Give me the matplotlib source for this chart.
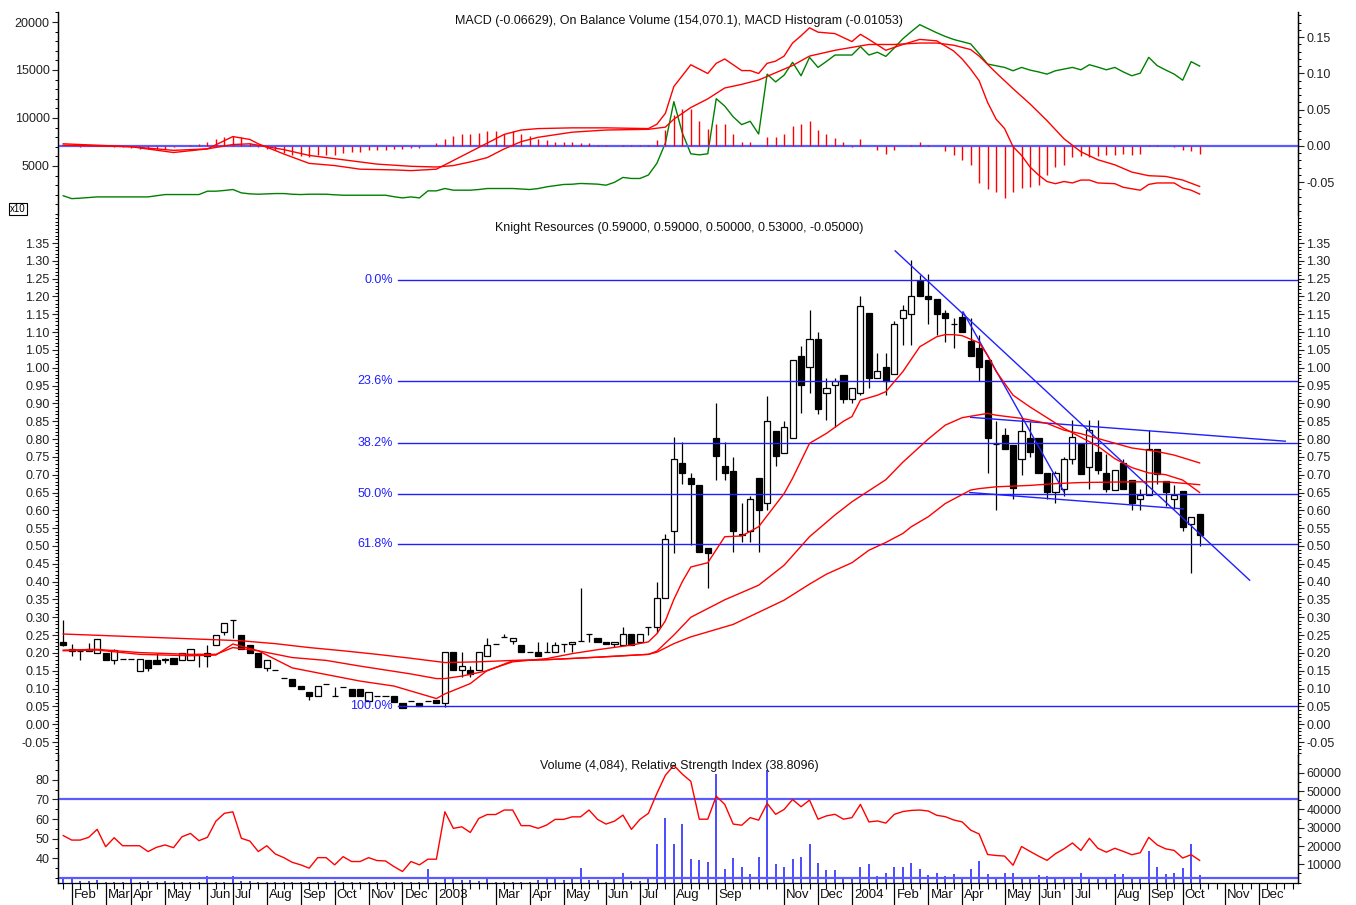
import matplotlib
matplotlib.use('Agg')
import matplotlib.pyplot as plt
import numpy as np
from matplotlib.ticker import MultipleLocator, FixedLocator, FormatStrFormatter, NullFormatter
import matplotlib.transforms as mtrans

plt.rcParams['font.family'] = ['Liberation Sans', 'DejaVu Sans']

# ---------------- data (weekly bars, index 0 .. 134) ----------------
c_open = [0.232,0.210,0.205,0.205,0.200,0.200,0.180,0.182,0.182,0.149,
          0.179,0.179,0.180,0.187,0.179,0.179,0.196,0.192,0.222,0.259,
          0.291,0.250,0.222,0.201,0.158,0.151,0.130,0.127,0.108,0.090,
          0.080,0.113,0.080,0.104,0.100,0.100,0.064,0.080,0.080,0.080,
          0.059,0.064,0.059,0.064,0.069,0.059,0.203,0.151,0.151,0.151,
          0.191,0.226,0.245,0.234,0.222,0.203,0.203,0.203,0.203,0.225,
          0.225,0.234,0.252,0.243,0.231,0.225,0.222,0.252,0.231,0.273,
          0.272,0.355,0.542,0.732,0.692,0.672,0.493,0.804,0.724,0.711,
          0.530,0.542,0.692,0.621,0.823,0.761,0.802,1.033,1.003,1.082,
          0.930,0.951,0.981,0.911,0.930,1.154,0.970,1.003,0.982,1.141,
          1.152,1.244,1.201,1.192,1.154,1.124,1.143,1.075,1.055,1.021,
          0.786,0.811,0.783,0.743,0.802,0.803,0.704,0.652,0.660,0.743,
          0.785,0.722,0.764,0.705,0.658,0.733,0.685,0.633,0.643,0.771,
          0.683,0.633,0.654,0.561,0.590]
c_high = [0.292,0.225,0.205,0.228,0.240,0.200,0.210,0.182,0.182,0.182,
          0.179,0.201,0.185,0.187,0.201,0.210,0.196,0.222,0.250,0.283,
          0.291,0.250,0.222,0.201,0.179,0.151,0.130,0.127,0.108,0.090,
          0.108,0.113,0.104,0.104,0.100,0.100,0.090,0.080,0.080,0.080,
          0.059,0.064,0.059,0.064,0.069,0.203,0.203,0.203,0.163,0.203,
          0.243,0.226,0.252,0.243,0.222,0.203,0.231,0.231,0.231,0.225,
          0.231,0.381,0.252,0.243,0.231,0.231,0.273,0.252,0.252,0.273,
          0.399,0.533,0.805,0.793,0.704,0.672,0.493,0.902,0.791,0.750,
          0.621,0.640,0.692,0.921,0.823,0.851,1.021,1.062,1.162,1.101,
          0.970,0.970,0.981,0.942,1.201,1.154,1.042,1.042,1.132,1.176,
          1.302,1.260,1.263,1.192,1.162,1.141,1.157,1.141,1.092,1.021,
          0.850,0.830,0.783,0.858,0.848,0.803,0.704,0.711,0.750,0.853,
          0.785,0.853,0.853,0.757,0.713,0.743,0.685,0.661,0.825,0.771,
          0.683,0.671,0.654,0.580,0.590]
c_low = [0.220,0.190,0.180,0.205,0.200,0.180,0.170,0.182,0.182,0.149,
         0.149,0.170,0.172,0.170,0.179,0.179,0.160,0.160,0.222,0.250,
         0.242,0.210,0.201,0.160,0.149,0.151,0.130,0.108,0.100,0.069,
         0.080,0.113,0.080,0.104,0.080,0.080,0.064,0.080,0.080,0.061,
         0.045,0.064,0.050,0.064,0.059,0.047,0.151,0.133,0.133,0.151,
         0.191,0.226,0.245,0.226,0.203,0.203,0.191,0.203,0.203,0.203,
         0.203,0.234,0.231,0.231,0.225,0.218,0.222,0.222,0.231,0.250,
         0.255,0.355,0.481,0.673,0.502,0.484,0.381,0.685,0.685,0.484,
         0.512,0.512,0.484,0.600,0.724,0.761,0.802,0.872,0.930,0.870,
         0.853,0.834,0.902,0.902,0.923,0.942,0.970,0.923,0.982,1.064,
         1.064,1.201,1.124,1.092,1.073,1.055,1.101,1.033,0.963,0.704,
         0.602,0.771,0.633,0.699,0.750,0.704,0.633,0.621,0.640,0.731,
         0.703,0.661,0.703,0.652,0.658,0.661,0.602,0.600,0.643,0.675,
         0.612,0.605,0.542,0.423,0.500]
c_close = [0.222,0.205,0.205,0.210,0.240,0.180,0.208,0.182,0.182,0.182,
           0.158,0.170,0.182,0.170,0.201,0.210,0.196,0.201,0.250,0.283,
           0.291,0.210,0.201,0.160,0.179,0.151,0.130,0.108,0.100,0.080,
           0.108,0.113,0.080,0.104,0.080,0.080,0.090,0.080,0.080,0.061,
           0.045,0.064,0.050,0.064,0.059,0.203,0.151,0.163,0.142,0.203,
           0.222,0.226,0.245,0.243,0.203,0.203,0.191,0.203,0.222,0.225,
           0.231,0.234,0.252,0.231,0.225,0.231,0.252,0.222,0.252,0.273,
           0.353,0.521,0.743,0.704,0.673,0.484,0.481,0.752,0.704,0.542,
           0.535,0.631,0.600,0.851,0.752,0.833,1.021,0.951,1.082,0.883,
           0.942,0.962,0.911,0.942,1.173,0.970,0.992,0.963,1.123,1.162,
           1.201,1.201,1.192,1.152,1.141,1.124,1.101,1.033,1.003,0.804,
           0.786,0.771,0.662,0.823,0.764,0.704,0.652,0.704,0.745,0.805,
           0.703,0.825,0.713,0.661,0.713,0.661,0.621,0.643,0.771,0.703,
           0.652,0.643,0.552,0.580,0.530]

# moving averages (read at knots)
ma_fast_k = [0,4,9,15,18,20,23,27,30,35,39,44,45,48,50,53,57,60,63,67,
             69,70,71,72,73,74,76,78,80,82,85,86,88,90,92,93,94,96,97,99,
             101,103,104,105,106,108,109,110,112,114,116,118,120,122,124,126,128,130,132,134]
ma_fast = [0.206,0.208,0.196,0.192,0.194,0.225,0.206,0.158,0.144,0.121,
           0.107,0.072,0.085,0.114,0.151,0.175,0.184,0.198,0.209,0.222,
           0.231,0.254,0.29,0.35,0.40,0.441,0.453,0.526,0.528,0.554,
           0.647,0.690,0.788,0.816,0.850,0.863,0.909,0.923,0.933,0.989,
           1.059,1.087,1.093,1.093,1.09,1.07,1.035,0.99,0.923,0.89,
           0.86,0.83,0.805,0.78,0.745,0.72,0.705,0.70,0.685,0.650]
ma_mid_k = [0,4,9,15,18,20,23,27,31,35,41,44,45,47,50,53,57,63,69,70,
            72,74,78,82,85,88,91,93,95,97,99,102,104,106,109,110,113,116,118,120,
            123,126,129,131,134]
ma_mid = [0.208,0.210,0.201,0.196,0.196,0.215,0.206,0.187,0.179,0.163,
          0.141,0.128,0.128,0.135,0.150,0.178,0.181,0.188,0.196,0.205,
          0.25,0.30,0.349,0.390,0.446,0.526,0.587,0.624,0.655,0.686,
          0.735,0.80,0.839,0.86,0.872,0.867,0.858,0.844,0.825,0.815,
          0.795,0.775,0.765,0.755,0.733]
ma_slow_k = [0,9,19,21,25,29,33,37,41,45,49,53,57,63,69,70,72,74,79,85,
             88,90,93,95,97,99,100,102,104,107,108,110,114,117,120,126,130,134]
ma_slow = [0.253,0.245,0.236,0.234,0.226,0.215,0.206,0.196,0.185,0.173,
           0.175,0.179,0.181,0.188,0.196,0.202,0.226,0.245,0.28,0.348,
           0.393,0.421,0.453,0.488,0.51,0.535,0.554,0.582,0.619,0.657,
           0.661,0.666,0.670,0.675,0.678,0.68,0.68,0.672]

# fibonacci retracement levels and trend lines
fib_levels = [1.245, 0.963, 0.789, 0.647, 0.506, 0.05]
fib_labels = ['0.0%', '23.6%', '38.2%', '50.0%', '61.8%', '100.0%']
fib_start = 39.5
trend_k = [[98.1, 139.9], [106.1, 118.0], [107.0, 144.1], [106.9, 132.1]]
trend_v = [[1.328, 0.404], [1.157, 0.652], [0.861, 0.794], [0.650, 0.604]]

# On Balance Volume (x10)
obv = [1900,1600,1650,1720,1780,1780,1780,1780,1780,1780,
       1780,1900,2025,2025,2025,2025,2025,2375,2375,2450,
       2550,2200,2100,2060,2100,2130,2130,2060,2025,2060,
       2060,2060,2000,1955,1955,1955,1955,1955,1955,1800,
       1675,1780,1675,2410,2410,2655,2480,2480,2480,2550,
       2655,2655,2655,2655,2600,2550,2650,2830,2950,3075,
       3100,3180,3150,3110,3000,3300,3810,3700,3700,4060,
       5280,7390,11700,8440,6270,6160,6270,12010,11240,10120,
       9310,9660,8330,14570,13760,14460,15800,14400,16320,15270,
       15900,16560,16560,16560,17440,16560,16850,16420,17300,18250,
       19000,19720,19300,18880,18500,18180,17950,17720,16700,15620,
       15450,15270,14920,15270,14990,14800,14570,14920,15100,15270,
       15020,15550,15300,15020,15270,14800,14400,14670,16320,15450,
       15000,14570,13940,15870,15407]

# MACD and signal (knots)
macd_k = [0,4,8,13,17,20,22,23,26,29,32,35,39,41,44,45,46,48,50,52,
          54,56,60,64,69,70,71,72,74,76,77,78,80,81,82,83,84,85,86,87,
          88,89,91,93,94,95,97,99,101,103,105,106,107,108,109,110,111,112,113,114,
          115,116,117,118,119,120,121,122,124,125,127,128,129,131,132,133,134]
macd = [0.003,0.001,-0.001,-0.009,-0.004,0.013,0.009,0.003,-0.011,-0.024,
        -0.027,-0.032,-0.033,-0.034,-0.032,-0.026,-0.020,-0.008,0.004,0.016,
        0.022,0.024,0.025,0.025,0.024,0.030,0.045,0.082,0.112,0.100,
        0.114,0.120,0.104,0.104,0.100,0.114,0.117,0.124,0.142,0.152,
        0.163,0.157,0.155,0.144,0.154,0.147,0.132,0.140,0.147,0.145,
        0.131,0.120,0.106,0.090,0.060,0.037,0.024,-0.001,-0.013,-0.029,
        -0.040,-0.049,-0.052,-0.049,-0.051,-0.047,-0.047,-0.051,-0.052,-0.057,
        -0.061,-0.053,-0.051,-0.051,-0.058,-0.061,-0.0663]
signal_k = [0,8,13,17,20,22,26,29,33,37,41,44,46,48,50,52,54,56,60,64,
            69,71,72,74,76,78,80,82,84,86,88,91,93,95,98,101,103,105,107,108,
            110,112,114,116,118,120,122,124,126,128,130,132,134]
signal = [0.001,-0.001,-0.006,-0.004,0.002,0.003,-0.005,-0.013,-0.019,-0.025,
          -0.028,-0.029,-0.027,-0.022,-0.016,-0.004,0.006,0.012,0.019,0.022,
          0.023,0.026,0.037,0.053,0.065,0.080,0.085,0.091,0.101,0.111,
          0.124,0.132,0.136,0.140,0.140,0.142,0.142,0.139,0.133,0.124,
          0.101,0.079,0.058,0.035,0.010,-0.008,-0.019,-0.026,-0.036,-0.041,
          -0.042,-0.047,-0.0558]
macd_hist = [0.0,0.0,-0.001,0.001,0.002,0.0,-0.001,-0.002,-0.003,-0.004,
             -0.004,-0.004,-0.004,-0.002,0.0,0.002,0.003,0.006,0.009,0.012,
             0.014,0.012,0.004,-0.002,-0.004,-0.006,-0.010,-0.012,-0.014,-0.015,
             -0.013,-0.013,-0.012,-0.009,-0.008,-0.008,-0.006,-0.005,-0.005,-0.004,
             -0.004,-0.003,-0.003,0.0,0.004,0.010,0.014,0.016,0.016,0.018,
             0.021,0.021,0.017,0.020,0.016,0.014,0.009,0.008,0.006,0.005,
             0.005,0.004,0.004,0.002,0.002,0.0,0.002,0.002,0.001,0.002,
             0.008,0.022,0.043,0.051,0.051,0.035,0.024,0.031,0.031,0.017,
             0.006,0.005,0.0,0.013,0.013,0.016,0.028,0.030,0.035,0.022,
             0.017,0.011,0.005,-0.002,0.010,0.0,-0.005,-0.011,-0.006,0.0,
             0.002,0.005,0.002,0.0,-0.007,-0.013,-0.019,-0.026,-0.051,-0.060,
             -0.064,-0.072,-0.063,-0.058,-0.057,-0.054,-0.040,-0.029,-0.026,-0.015,
             -0.014,-0.015,-0.014,-0.013,-0.013,-0.011,-0.013,-0.011,0.002,0.002,
             0.0,-0.002,-0.006,-0.007,-0.0105]

rsi = [51.5,49.2,49.2,50.6,54.7,45.8,50.4,46.3,46.3,46.3,
       43.3,45.5,46.7,45.3,50.9,52.6,48.9,50.6,58.9,62.9,
       63.7,50.1,48.7,43.3,46.3,42.1,40.2,37.8,36.5,34.8,
       40.2,40.2,36.5,40.7,38.2,38.2,40.2,38.7,38.5,35.6,
       33.1,38.2,36.5,39.4,39.4,63.7,55.2,56.0,53.1,60.3,
       62.3,62.3,64.6,64.6,56.6,56.6,55.2,56.9,59.8,59.8,
       61.1,61.1,64.6,59.8,57.4,58.9,62.0,54.7,59.8,62.9,
       73.1,82.4,87.5,83.0,79.3,59.9,59.9,71.7,67.5,57.4,
       56.8,60.7,59.4,68.0,62.4,64.9,70.0,66.3,69.7,59.9,
       61.6,62.4,59.9,60.7,67.5,58.5,59.0,57.9,62.4,63.8,
       64.4,64.6,64.1,61.9,61.2,59.5,58.5,54.3,52.3,41.8,
       41.3,41.0,36.3,45.9,43.4,41.0,38.8,42.2,44.7,47.7,
       43.9,50.1,45.0,43.0,45.0,43.4,41.7,42.7,50.6,46.7,
       44.7,43.9,40.0,41.7,38.8]

volume = [2000,3000,800,1000,1500,500,600,400,2000,400,
          800,400,900,300,400,400,400,3500,400,500,
          3500,1000,900,200,200,500,200,400,400,400,
          400,400,900,400,400,400,400,400,400,400,
          400,400,400,7600,400,1800,1800,1200,1200,800,
          2000,400,400,400,400,400,1300,2200,2200,1300,
          1800,8200,1300,1300,400,1800,5300,800,800,2700,
          20900,35300,21300,31800,13100,12400,11300,59600,7300,13600,
          8700,4500,14200,61800,10400,8700,13100,14200,20900,10500,
          7000,7000,1800,1800,8700,10400,3600,5100,8700,8700,
          10500,7600,4000,5100,3600,4500,3100,7600,11800,4500,
          2200,5100,5100,3300,1800,4000,3600,1800,3100,2200,
          5500,3300,2200,1800,4500,4500,2700,1800,17300,8700,
          4500,5100,8200,21300,4084]

month_k = [1,5,8,12,17,20,24,28,32,36,40,44,47,51,55,59,64,68,72,77,
           85,89,93,98,102,106,111,115,119,124,128,132,137,141]
month_labels = ['Feb','Mar','Apr','May','Jun','Jul','Aug','Sep','Oct','Nov',
                'Dec','2003','','Mar','Apr','May','Jun','Jul','Aug','Sep',
                'Nov','Dec','2004','Feb','Mar','Apr','May','Jun','Jul','Aug',
                'Sep','Oct','Nov','Dec']

# ---------------- figure ----------------
W_PX, H_PX = 1356, 905
fig = plt.figure(figsize=(W_PX / 100, H_PX / 100), dpi=100)

def fy(y):
    return 1 - y / H_PX

LEFT = 58 / W_PX
WIDTH = (1298 - 58) / W_PX
ax_top = fig.add_axes([LEFT, fy(215), WIDTH, (215 - 12) / H_PX])
ax_mid = fig.add_axes([LEFT, fy(755), WIDTH, (755 - 215) / H_PX], sharex=ax_top)
ax_bot = fig.add_axes([LEFT, fy(883), WIDTH, (883 - 755) / H_PX], sharex=ax_top)

XMIN, XMAX = -0.62, 145.6
RED = '#ff0000'
BLUE = '#2020ff'
LBLUE = '#5a5aff'
TL = dict(labelsize=9, length=4, width=0.8, pad=2, colors='#222222')

n = len(c_close)
x = np.arange(n)

# ---- top panel: OBV (left), MACD (right) ----
ax_top_r = ax_top.twinx()
ax_top.set_xlim(XMIN, XMAX)
ax_top.set_ylim(-105, 21042)
ax_top_r.set_ylim(-0.0952, 0.1848)
ax_top.plot(x, obv, color='#008000', lw=1.0, zorder=3)
ax_top_r.axhline(0, color=LBLUE, lw=1.6, zorder=1)
ax_top_r.vlines(x, 0, macd_hist, color=RED, lw=1.0, zorder=2)
ax_top_r.plot(macd_k, macd, color=RED, lw=1.0, zorder=3)
ax_top_r.plot(signal_k, signal, color=RED, lw=1.0, zorder=3)

ax_top.yaxis.set_major_locator(FixedLocator([5000, 10000, 15000, 20000]))
ax_top.yaxis.set_minor_locator(MultipleLocator(1000))
ax_top.yaxis.set_major_formatter(FormatStrFormatter('%d'))
ax_top_r.yaxis.set_major_locator(FixedLocator([-0.05, 0.0, 0.05, 0.10, 0.15]))
ax_top_r.yaxis.set_minor_locator(MultipleLocator(0.01))
ax_top_r.yaxis.set_major_formatter(FormatStrFormatter('%.2f'))
fig.text(679 / W_PX, fy(21),
         'MACD (-0.06629), On Balance Volume (154,070.1), MACD Histogram (-0.01053)',
         ha='center', va='center', fontsize=9, color='#111111')
fig.text(18 / W_PX, fy(209), 'x10', ha='center', va='center', fontsize=7,
         bbox=dict(boxstyle='square,pad=0.15', fc='white', ec='black', lw=0.8))

# ---- middle panel: candles ----
o = np.array(c_open); h = np.array(c_high); l = np.array(c_low); c = np.array(c_close)
up = c >= o
ax_mid.vlines(x, l, h, color='black', lw=0.9, zorder=2)
ax_mid.bar(x[up], (c - o)[up], bottom=o[up], width=0.72, facecolor='white',
           edgecolor='black', linewidth=0.9, zorder=3)
ax_mid.bar(x[~up], (o - c)[~up], bottom=c[~up], width=0.72, facecolor='black',
           edgecolor='black', linewidth=0.9, zorder=3)
for lev, lab in zip(fib_levels, fib_labels):
    ax_mid.plot([fib_start, XMAX], [lev, lev], color=BLUE, lw=1.0, zorder=4)
    ax_mid.text(fib_start - 0.6, lev, lab, color=BLUE, fontsize=9,
                ha='right', va='center', zorder=5)
for tk, tv in zip(trend_k, trend_v):
    ax_mid.plot(tk, tv, color=BLUE, lw=1.0, zorder=4)
ax_mid.plot(ma_fast_k, ma_fast, color=RED, lw=1.0, zorder=5)
ax_mid.plot(ma_mid_k, ma_mid, color=RED, lw=1.0, zorder=5)
ax_mid.plot(ma_slow_k, ma_slow, color=RED, lw=1.0, zorder=5)
ax_mid.set_ylim(-0.0864, 1.4286)
ax_mid.yaxis.set_major_locator(FixedLocator(np.round(np.arange(-0.05, 1.351, 0.05), 2)))
ax_mid.yaxis.set_minor_locator(MultipleLocator(0.01))
ax_mid.yaxis.set_major_formatter(FormatStrFormatter('%.2f'))
ax_mid.tick_params(axis='y', which='both', left=True, right=True,
                   labelleft=True, labelright=True)
fig.text(679 / W_PX, fy(228),
         'Knight Resources (0.59000, 0.59000, 0.50000, 0.53000, -0.05000)',
         ha='center', va='center', fontsize=9, color='#111111')

# ---- bottom panel: RSI (left), Volume (right) ----
ax_vol = ax_bot.twinx()
ax_vol.set_zorder(1)
ax_bot.set_zorder(2)
ax_bot.patch.set_visible(False)
ax_vol.vlines(x, 0, volume, color='#1a1aff', lw=1.1)
ax_vol.set_ylim(-217, 69783)
ax_bot.set_ylim(27.2, 92.8)
ax_bot.axhline(70, color=LBLUE, lw=1.6)
ax_bot.axhline(30, color=LBLUE, lw=1.6)
ax_bot.plot(x, rsi, color=RED, lw=1.0)
ax_bot.yaxis.set_major_locator(FixedLocator([40, 50, 60, 70, 80]))
ax_bot.yaxis.set_minor_locator(MultipleLocator(5))
ax_vol.yaxis.set_major_locator(FixedLocator([10000, 20000, 30000, 40000, 50000, 60000]))
ax_vol.yaxis.set_minor_locator(MultipleLocator(5000))
ax_vol.yaxis.set_major_formatter(FormatStrFormatter('%d'))
fig.text(679 / W_PX, fy(766),
         'Volume (4,084), Relative Strength Index (38.8096)',
         ha='center', va='center', fontsize=9, color='#111111')

# x axis
ax_bot.set_xlim(XMIN, XMAX)
ax_bot.xaxis.set_minor_locator(FixedLocator(np.arange(0, 146)))
ax_bot.xaxis.set_major_locator(FixedLocator(month_k))
ax_bot.xaxis.set_major_formatter(NullFormatter())
ax_bot.tick_params(axis='x', which='major', length=16, width=0.9, direction='out')
ax_bot.tick_params(axis='x', which='minor', length=4.5, width=0.8, direction='out')
trans = mtrans.blended_transform_factory(ax_bot.transData, ax_bot.transAxes)
for mk, ml in zip(month_k, month_labels):
    if ml:
        ax_bot.text(mk + 0.25, -0.095, ml, transform=trans, ha='left', va='center',
                    fontsize=9.5, color='#111111')

for ax in (ax_top, ax_top_r, ax_mid):
    ax.tick_params(axis='x', which='both', bottom=False, top=False,
                   labelbottom=False)

for ax in (ax_top, ax_top_r, ax_mid, ax_bot, ax_vol):
    ax.tick_params(axis='y', which='major', **TL)
    ax.tick_params(axis='y', which='minor', length=2.2, width=0.7)
    ax.spines['top'].set_visible(False)
    ax.spines['left'].set_linewidth(0.9)
    ax.spines['right'].set_linewidth(0.9)
for ax in (ax_top, ax_top_r, ax_mid):
    ax.spines['bottom'].set_visible(False)
ax_bot.spines['bottom'].set_linewidth(0.9)
ax_vol.spines['bottom'].set_visible(False)
ax_mid.tick_params(axis='y', which='both', left=True, right=True)

fig.savefig('out.png', dpi=100)
